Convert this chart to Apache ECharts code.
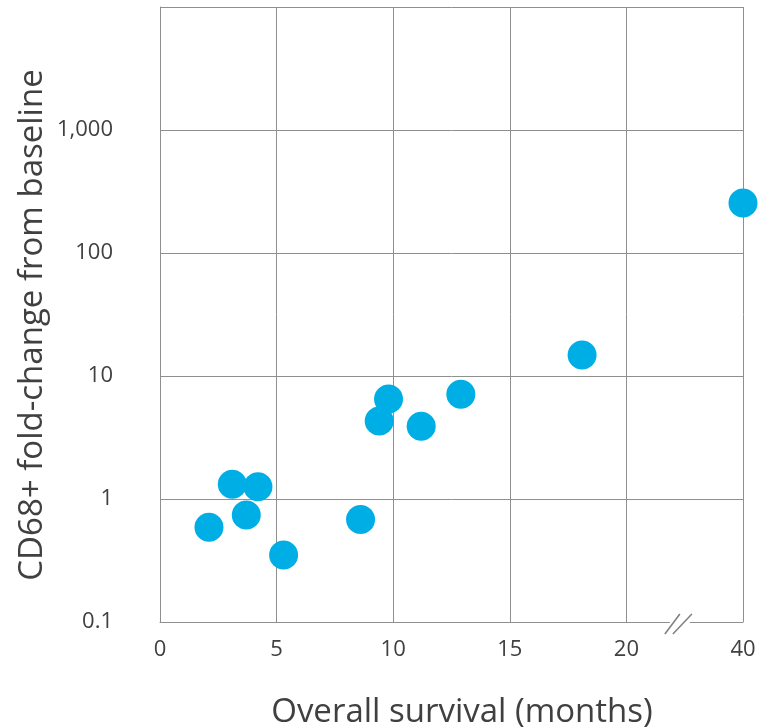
<!DOCTYPE html>
<html><head><meta charset="utf-8">
<script src="https://cdn.jsdelivr.net/npm/echarts@6/dist/echarts.min.js"></script>
<style>html,body{margin:0;padding:0;background:#fff}#c{width:759px;height:728px}</style>
</head><body><div id="c"></div>
<script>
// Data
const survivalMonths = [2.1, 3.1, 4.2, 3.7, 5.3, 8.6, 9.4, 9.8, 11.2, 12.9, 18.1, 40];
const cd68FoldChange = [0.59, 1.32, 1.26, 0.74, 0.35, 0.68, 4.3, 6.5, 3.9, 7.1, 14.8, 255];
const xTickLabels = [0, 5, 10, 15, 20, 40];
const yTickLabels = [0.1, 1, 10, 100, 1000];
const xTitle = 'Overall survival (months)';
const yTitle = 'CD68+ fold-change from baseline';

// Broken x axis: 0-20 linear, then 20-40 compressed into one tick step (axis break)
const BREAK_FROM = 20, BREAK_TO = 40, STEP = 5;
const axisPos = x => x <= BREAK_FROM ? x : BREAK_FROM + (x - BREAK_FROM) * STEP / (BREAK_TO - BREAK_FROM);
const points = survivalMonths.map((x, i) => [axisPos(x), cd68FoldChange[i]]);

const FONT = 'Open Sans';
const gridColor = '#8f8f8f';

const chart = echarts.init(document.getElementById('c'), null, {renderer: 'canvas'});
chart.setOption({
  animation: false,
  backgroundColor: '#fff',
  grid: {left: 160, right: 16, top: 7, bottom: 106, containLabel: false},
  xAxis: {
    type: 'value', min: 0, max: axisPos(BREAK_TO), interval: STEP,
    axisLine: {show: true, lineStyle: {color: gridColor, width: 1}},
    axisTick: {show: false},
    splitLine: {show: true, lineStyle: {color: gridColor, width: 1}},
    axisLabel: {
      margin: 17, color: '#404040', fontFamily: FONT, fontSize: 22,
      showMaxLabel: true, showMinLabel: true,
      formatter: v => {
        const idx = Math.round(v / STEP);
        return xTickLabels[idx] === undefined ? '' : String(xTickLabels[idx]);
      }
    }
  },
  yAxis: {
    type: 'log', logBase: 10, min: 0.1, max: 10000,
    axisLine: {show: true, lineStyle: {color: gridColor, width: 1}},
    axisTick: {show: false},
    splitLine: {show: true, lineStyle: {color: gridColor, width: 1}},
    axisLabel: {
      margin: 47, color: '#404040', fontFamily: FONT, fontSize: 22,
      formatter: v => {
        const m = yTickLabels.find(t => Math.abs(t - v) / t < 1e-6);
        return m === undefined ? '' : m.toLocaleString('en-US');
      }
    }
  },
  series: [{
    type: 'scatter',
    data: points,
    symbol: 'circle',
    symbolSize: 29,
    itemStyle: {color: '#00AEE6', opacity: 1}
  }]
});

const p20 = chart.convertToPixel({gridIndex: 0}, [BREAK_FROM, 0.1]);
const p40 = chart.convertToPixel({gridIndex: 0}, [axisPos(BREAK_TO), 0.1]);
const cx = p20[0] + (p40[0] - p20[0]) * 0.45;
const cy = p20[1];
chart.setOption({
  graphic: [
    {type: 'rect', shape: {x: cx - 9, y: cy - 2, width: 20, height: 4}, style: {fill: '#fff'}, z: 100},
    {type: 'line', shape: {x1: cx - 14, y1: cy + 12, x2: cx + 1, y2: cy - 8}, style: {stroke: '#7f7f7f', lineWidth: 1.5}, z: 101},
    {type: 'line', shape: {x1: cx - 6, y1: cy + 12, x2: cx + 13, y2: cy - 8}, style: {stroke: '#7f7f7f', lineWidth: 1.5}, z: 101},
    {type: 'text', x: 462, y: 713, style: {text: xTitle, font: '33px "Open Sans"', fill: '#404040', align: 'center', verticalAlign: 'middle'}, z: 50},
    {type: 'text', x: 33, y: 325, rotation: Math.PI / 2, style: {text: yTitle, font: '33px "Open Sans"', fill: '#404040', align: 'center', verticalAlign: 'middle'}, z: 50}
  ]
});
</script></body></html>
